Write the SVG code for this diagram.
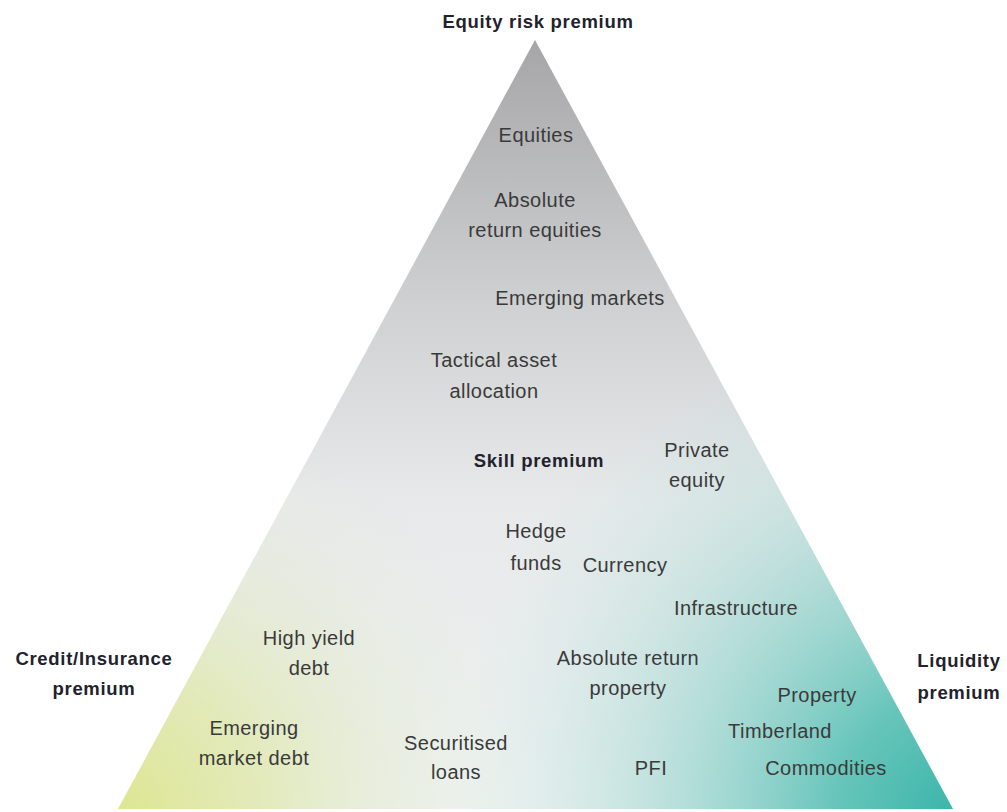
<svg xmlns="http://www.w3.org/2000/svg" width="1007" height="812" viewBox="0 0 1007 812">
  <defs>
    <!-- grey wash from the apex down -->
    <linearGradient id="baseFill" gradientUnits="userSpaceOnUse" x1="0" y1="40" x2="0" y2="809">
      <stop offset="0" stop-color="#a6a6a8"/>
      <stop offset="0.35" stop-color="#d0d1d3"/>
      <stop offset="0.6" stop-color="#e7e9ea"/>
      <stop offset="1" stop-color="#eef2f1"/>
    </linearGradient>
    <!-- teal corner (liquidity) -->
    <radialGradient id="tealFill" gradientUnits="userSpaceOnUse" cx="965" cy="820" r="520" fx="965" fy="820">
      <stop offset="0" stop-color="#36b3a7" stop-opacity="1"/>
      <stop offset="0.25" stop-color="#5bc1b6" stop-opacity="0.92"/>
      <stop offset="0.6" stop-color="#9bd5cf" stop-opacity="0.55"/>
      <stop offset="1" stop-color="#cde8e5" stop-opacity="0"/>
    </radialGradient>
    <!-- yellow-green corner (credit) -->
    <radialGradient id="yellowFill" gradientUnits="userSpaceOnUse" cx="115" cy="815" r="420" fx="115" fy="815">
      <stop offset="0" stop-color="#dde68f" stop-opacity="1"/>
      <stop offset="0.35" stop-color="#e0e8ad" stop-opacity="0.8"/>
      <stop offset="0.7" stop-color="#e3ebcf" stop-opacity="0.4"/>
      <stop offset="1" stop-color="#e8efe2" stop-opacity="0"/>
    </radialGradient>
    <style>
      .lbl { font-family: "Liberation Sans", Arial, sans-serif; font-size: 20px; fill: #3a3a3a; text-anchor: middle; letter-spacing: 0.45px; }
      .head { font-family: "Liberation Sans", Arial, sans-serif; font-size: 18.5px; font-weight: bold; fill: #22222c; text-anchor: middle; letter-spacing: 0.7px; }
    </style>
  </defs>

  <rect width="1007" height="812" fill="#ffffff"/>

  <!-- triangle body with three colour washes -->
  <g id="triangle">
    <polygon points="535,40 118,809 953,809" fill="url(#baseFill)"/>
    <polygon points="535,40 118,809 953,809" fill="url(#tealFill)"/>
    <polygon points="535,40 118,809 953,809" fill="url(#yellowFill)"/>
  </g>

  <!-- corner and centre headings -->
  <g id="heading-equity"><text class="head" x="538" y="28">Equity risk premium</text></g>
  <g id="heading-credit">
    <text class="head" x="94" y="665">Credit/Insurance</text>
    <text class="head" x="94" y="695">premium</text>
  </g>
  <g id="heading-liquidity">
    <text class="head" x="959" y="667">Liquidity</text>
    <text class="head" x="959" y="699">premium</text>
  </g>
  <g id="heading-skill"><text class="head" x="539" y="467">Skill premium</text></g>

  <!-- asset classes -->
  <g id="equities"><text class="lbl" x="536" y="142">Equities</text></g>
  <g id="abs-return-equities">
    <text class="lbl" x="535" y="207">Absolute</text>
    <text class="lbl" x="535" y="237">return equities</text>
  </g>
  <g id="emerging-markets"><text class="lbl" x="580" y="305">Emerging markets</text></g>
  <g id="tactical-asset-allocation">
    <text class="lbl" x="494" y="367">Tactical asset</text>
    <text class="lbl" x="494" y="398">allocation</text>
  </g>
  <g id="private-equity">
    <text class="lbl" x="697" y="457">Private</text>
    <text class="lbl" x="697" y="487">equity</text>
  </g>
  <g id="hedge-funds">
    <text class="lbl" x="536" y="538">Hedge</text>
    <text class="lbl" x="536" y="570">funds</text>
  </g>
  <g id="currency"><text class="lbl" x="625" y="572">Currency</text></g>
  <g id="infrastructure"><text class="lbl" x="736" y="615">Infrastructure</text></g>
  <g id="high-yield-debt">
    <text class="lbl" x="309" y="645">High yield</text>
    <text class="lbl" x="309" y="675">debt</text>
  </g>
  <g id="abs-return-property">
    <text class="lbl" x="628" y="665">Absolute return</text>
    <text class="lbl" x="628" y="695">property</text>
  </g>
  <g id="property"><text class="lbl" x="817" y="702">Property</text></g>
  <g id="timberland"><text class="lbl" x="780" y="738">Timberland</text></g>
  <g id="emerging-market-debt">
    <text class="lbl" x="254" y="735">Emerging</text>
    <text class="lbl" x="254" y="765">market debt</text>
  </g>
  <g id="securitised-loans">
    <text class="lbl" x="456" y="750">Securitised</text>
    <text class="lbl" x="456" y="779">loans</text>
  </g>
  <g id="pfi"><text class="lbl" x="651" y="775">PFI</text></g>
  <g id="commodities"><text class="lbl" x="826" y="775">Commodities</text></g>

  <!-- no connectors in this figure -->
  <g id="connectors"/>
</svg>
